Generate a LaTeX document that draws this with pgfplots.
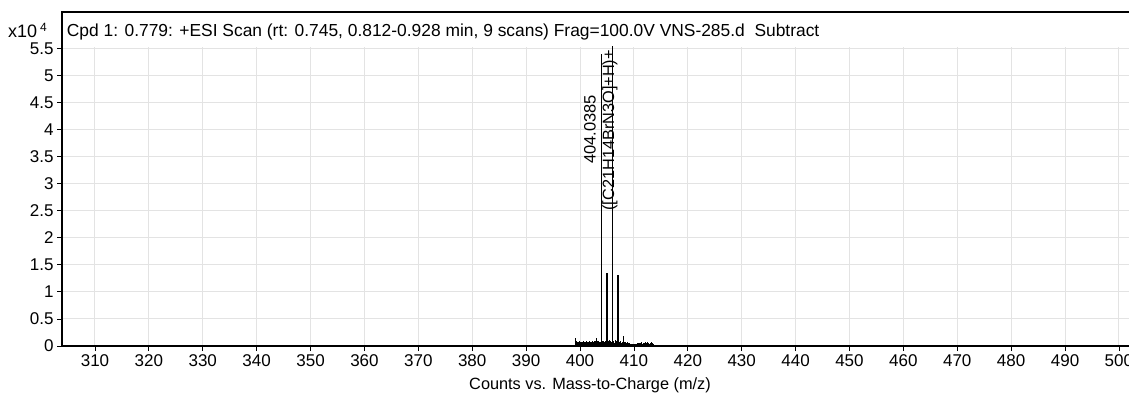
\documentclass[border=0pt]{standalone}
\usepackage{fontspec}
\setmainfont{Liberation Sans}
\usepackage{pgfplots}
\usepackage{pgfplotstable}
\pgfplotsset{compat=1.18}

\pgfplotstableread{
x y
399.0 0.01
399.1 0.03
399.2 0.15
399.3 0.09
399.4 0.06
399.5 0.08
399.6 0.05
399.7 0.07
399.8 0.06
399.9 0.09
400.0 0.05
400.1 0.07
400.2 0.06
400.3 0.08
400.4 0.05
400.5 0.07
400.6 0.09
400.7 0.06
400.8 0.08
400.9 0.05
401.0 0.07
401.1 0.06
401.2 0.09
401.3 0.07
401.4 0.05
401.5 0.08
401.6 0.06
401.7 0.07
401.8 0.10
401.9 0.06
402.0 0.08
402.1 0.05
402.2 0.07
402.3 0.09
402.4 0.06
402.5 0.08
402.6 0.07
402.7 0.10
402.8 0.06
402.9 0.09
403.0 0.07
403.1 0.15
403.2 0.08
403.3 0.10
403.4 0.07
403.5 0.09
403.6 0.06
403.7 0.08
403.8 0.07
403.9 0.10
404.1 0.09
404.2 0.07
404.3 0.10
404.4 0.06
404.5 0.08
404.6 0.07
404.7 0.09
404.8 0.06
404.9 0.08
405.1 0.07
405.2 0.10
405.3 0.06
405.4 0.08
405.5 0.11
405.6 0.07
405.7 0.09
405.8 0.06
405.9 0.08
406.1 0.09
406.2 0.07
406.3 0.10
406.4 0.06
406.5 0.12
406.6 0.07
406.7 0.09
406.8 0.06
406.9 0.08
407.1 0.07
407.2 0.09
407.3 0.06
407.4 0.08
407.5 0.07
407.6 0.10
407.7 0.06
407.8 0.07
407.9 0.08
408.0 0.18
408.1 0.07
408.2 0.06
408.3 0.08
408.4 0.05
408.5 0.07
408.6 0.06
408.7 0.05
408.8 0.07
408.9 0.04
409.0 0.05
409.1 0.04
409.2 0.06
409.3 0.04
409.4 0.03
409.5 0.04
409.6 0.03
409.7 0.04
409.8 0.03
409.9 0.03
410.0 0.03
410.1 0.03
410.2 0.04
410.3 0.03
410.4 0.03
410.5 0.04
410.6 0.05
410.7 0.04
410.8 0.06
410.9 0.04
411.0 0.05
411.1 0.04
411.2 0.06
411.3 0.05
411.4 0.04
411.5 0.07
411.6 0.04
411.7 0.05
411.8 0.06
411.9 0.04
412.0 0.05
412.1 0.07
412.2 0.04
412.3 0.06
412.4 0.05
412.5 0.04
412.6 0.07
412.7 0.05
412.8 0.06
412.9 0.04
413.0 0.06
413.1 0.05
413.2 0.07
413.3 0.04
413.4 0.06
413.5 0.05
413.6 0.04
413.7 0.03
413.8 0.02
}\noisetable

\pgfplotstableread{
x y
404.0385 5.40
405.0410 1.34
406.0360 5.55
407.0390 1.32
}\peaktable

\begin{document}
\begin{tikzpicture}
\path[use as bounding box] (0,0) rectangle (1129pt,392pt);
\begin{axis}[
  at={(62pt,46pt)}, anchor=south west,
  scale only axis, width=1067pt, height=334pt,
  xmin=303.88, xmax=501.87, ymin=0, ymax=6.17,
  xtick={310,320,330,340,350,360,370,380,390,400,410,420,430,440,450,460,470,480,490,500},
  ytick={0,0.5,1,1.5,2,2.5,3,3.5,4,4.5,5,5.5},
  yticklabels={0,0.5,1,1.5,2,2.5,3,3.5,4,4.5,5,5.5},
  axis line style={draw=none},
  tick align=outside, major tick length=5pt,
  tick style={black, line width=0.8pt},
  xtick pos=bottom, ytick pos=left,
  xmajorgrids, ymajorgrids,
  grid style={black!11, line width=1pt},
  ticklabel style={font=\fontsize{17}{19}\selectfont},
  /pgf/number format/assume math mode=true,
  clip=false,
]
\fill[white] (axis cs:303.9,5.53) rectangle (axis cs:501.87,6.17);
\addplot[ycomb, black, line width=1pt, no marks] table[x=x,y=y] {\noisetable};
\addplot[ycomb, black, line width=1.4pt, no marks] table[x=x,y=y] {\peaktable};
\node[rotate=90, anchor=east, inner sep=0pt, font=\fontsize{16.5}{18}\selectfont] at (axis cs:401.86,4.64) {404.0385};
\node[rotate=90, anchor=east, inner sep=0pt, font=\fontsize{16.3}{18}\selectfont] at (axis cs:405.57,5.47) {([C21H14BrN3O]+H)+};
\draw[black, line width=1.3pt] (rel axis cs:0,0) -- (rel axis cs:0,1) -- (rel axis cs:1.02,1);
\draw[black, line width=2pt] (rel axis cs:0,0) -- (rel axis cs:1.02,0);
\end{axis}
\node[anchor=base west, inner sep=0pt, font=\fontsize{17.4}{19}\selectfont] at (66.7pt,355.5pt) {Cpd 1: 0.779: +ESI Scan (rt: 0.745, 0.812-0.928 min, 9 scans) Frag=100.0V VNS-285.d\ \ Subtract};
\node[anchor=base west, inner sep=0pt, font=\fontsize{18}{19}\selectfont] at (8pt,355pt) {x10\,\raisebox{6pt}{\fontsize{12}{13}\selectfont 4}};
\node[anchor=base, inner sep=0pt, font=\fontsize{16.3}{18}\selectfont] at (590pt,2.5pt) {Counts vs. Mass-to-Charge (m/z)};
\end{tikzpicture}
\end{document}
